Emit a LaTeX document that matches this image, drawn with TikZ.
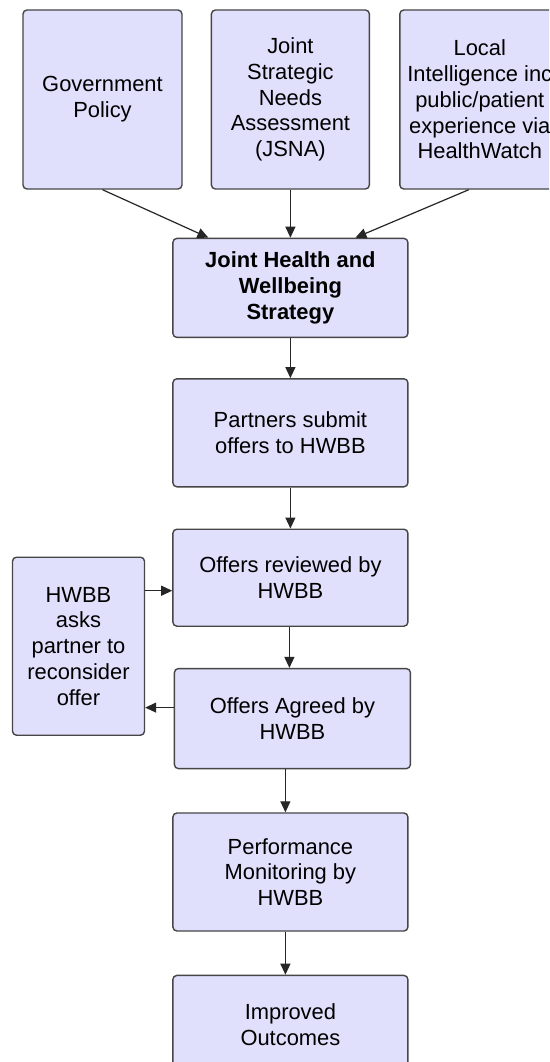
\documentclass[tikz,border=0pt]{standalone}
\usepackage{fontspec}
\setmainfont{Liberation Sans}
\usepackage{xcolor}
\usepackage{tikz}
\usetikzlibrary{arrows.meta,positioning}
\definecolor{boxfill}{RGB}{224,224,252}
\definecolor{boxline}{RGB}{70,70,70}

\begin{document}
\begin{tikzpicture}[
  x=1pt, y=1pt,
  font=\fontsize{21.9}{25.8}\selectfont,
  box/.style={draw=boxline, fill=boxfill, rounded corners=4pt, align=center, line width=1.4pt, inner sep=2pt, minimum width=235pt},
  topbox/.style={box, minimum width=159pt, minimum height=179pt},
  arr/.style={-{Triangle[length=11pt,width=10pt]}, line width=1.2pt, black!85}
]
\useasboundingbox (0,0) rectangle (549,-1062);
\fill[white] (0,0) rectangle (549,-1062);
\clip (0,0) rectangle (549,-1062);
\node[topbox] (gov) at (102.5,-99.5) {Government\\Policy};
\node[topbox, minimum width=158pt, right=28pt of gov] (jsna) {Joint\\Strategic\\Needs\\Assessment\\(JSNA)};
\node[topbox, minimum width=160pt, right=29pt of jsna] (local) {Local\\Intelligence inc\\public/patient\\experience via\\HealthWatch};
\node[box, minimum height=99pt, below=48pt of jsna] (jhws) {\bfseries Joint Health and\\\bfseries Wellbeing\\\bfseries Strategy};
\node[box, minimum height=108pt, below=40pt of jhws] (submit) {Partners submit\\offers to HWBB};
\node[box, minimum height=97pt, below=41pt of submit] (review) {Offers reviewed by\\HWBB};
\node[box, minimum width=236pt, minimum height=100pt, below=41pt of review, xshift=2pt] (agreed) {Offers Agreed by\\HWBB};
\node[box, minimum height=118pt, below=43pt of agreed, xshift=-2pt] (monitor) {Performance\\Monitoring by\\HWBB};
\node[box, minimum height=99pt, below=43pt of monitor] (outcome) {Improved\\Outcomes};
\node[box, minimum width=132pt, minimum height=178pt, anchor=north east] (ask) at ([xshift=-27pt, yshift=-28pt]review.north west) {HWBB\\asks\\partner to\\reconsider\\offer};
\coordinate (inA) at ([yshift=-13pt]review.west);
\coordinate (outA) at ([yshift=11pt]agreed.west);
\draw[arr] (gov.south) -- ([xshift=-82pt]jhws.north);
\draw[arr] (jsna) -- (jhws);
\draw[arr] ([xshift=-11pt]local.south) -- ([xshift=65pt]jhws.north);
\draw[arr] (jhws) -- (submit);
\draw[arr] (submit) -- (review);
\draw[arr] ([xshift=-1pt]review.south) -- ([xshift=-3pt]agreed.north);
\draw[arr] ([xshift=-7pt]agreed.south) -- ([xshift=-5pt]monitor.north);
\draw[arr] ([xshift=-5pt]monitor.south) -- ([xshift=-5pt]outcome.north);
\draw[arr] (ask.east |- inA) -- (inA);
\draw[arr] (outA) -- (ask.east |- outA);
\end{tikzpicture}
\end{document}
